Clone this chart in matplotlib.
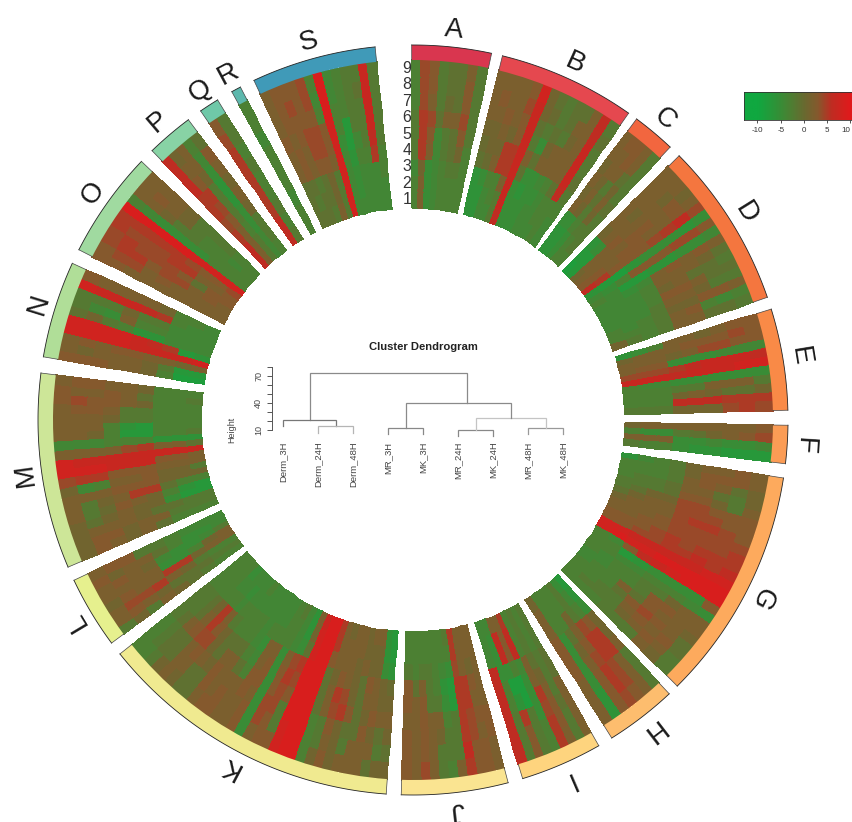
import numpy as np
import matplotlib
matplotlib.use('Agg')
from matplotlib import pyplot as plt
from matplotlib.colors import LinearSegmentedColormap, Normalize

plt.rcParams['font.family'] = ['Liberation Sans', 'DejaVu Sans']

# each sector: one list per column (clockwise), values for rings 1 to 9 (inner to outer)
sector_a = [[-3,-3,-4,-2,-2,-2,-3,-3,-3], [2,2,1,5,5,5,4,4,4], [-5,-5,-5,2,3,4,2,3,3], [-4,-4,-4,-4,-4,-1,-2,-2,-2],
            [-3,-3,-3,-2,-2,2,0,-1,-1], [-3,-3,-2,-1,-1,2,-1,-1,-1], [-3,-3,-2,1,3,4,3,3,2], [-3,-3,-3,-3,-2,-2,-2,-2,-2]]
sector_b = [[-6,-6,-6,-1,0,1,2,2,2], [-6,-6,-5,0,1,1,2,3,2], [-4,-4,-3,2,1,2,3,2,2], [-4,-3,-3,5,5,1,2,2,2],
            [-2,-2,2,5,5,3,3,4,3], [6,7,7,7,7,7,7,7,8], [-5,-5,-5,-1,2,-2,-1,1,1], [-5,-5,-6,-5,-1,-5,-2,0,-1],
            [-5,-5,-5,-5,2,1,-1,-2,-2], [-4,-4,-5,-4,2,2,-2,-1,-1], [-4,-4,-4,-3,2,2,1,2,-1], [-4,-3,-3,-1,2,2,2,2,2],
            [-3,-3,-3,6,7,7,7,6,6], [-4,-4,-3,-2,-1,-2,-2,-1,-2]]
sector_c = [[-6,-6,-5,2,1,2,1,2,2], [-6,-6,-5,1,2,1,2,2,3], [-5,-5,-3,-2,-1,-2,2,3,3], [-3,-3,-2,1,2,1,-1,2,2],
            [-3,-2,-2,-2,-1,-2,-2,-2,-2]]
sector_d = [[-8,-7,-6,1,2,2,2,2,2], [-7,-7,-5,2,2,1,2,2,2], [1,2,2,3,2,2,2,1,2], [2,2,2,2,3,3,2,3,1],
            [3,3,2,3,3,2,2,3,2], [6,5,3,3,3,4,5,6,4], [-6,-7,-8,-6,-5,-5,-5,-6,-5], [-4,-5,-3,3,3,3,4,4,3],
            [-3,-4,-7,-7,-6,-6,-5,-5,-4], [-4,-4,-5,-4,2,3,2,3,2], [-4,-4,-4,-3,2,2,2,1,-1], [-4,-4,-4,-3,1,2,-1,-1,-2],
            [-4,-4,-4,-3,3,3,2,-1,-1], [-4,-4,-4,-2,2,2,1,-2,-2], [-3,-4,-3,-2,1,1,3,3,2], [-3,-3,-3,-2,2,3,-3,-4,-3],
            [1,-2,-3,-2,2,2,-1,-1,-2]]
sector_e = [[-6,-5,-3,2,2,1,2,3,3], [1,2,2,2,3,3,3,4,3], [2,2,2,1,2,4,4,3,3], [2,3,3,-5,-5,-5,-4,-4,-4],
            [4,4,4,5,6,7,7,7,6], [7,7,7,6,7,7,7,8,8], [-3,-4,-4,-5,-5,-5,-5,-5,-5], [-3,-3,-3,-2,-2,2,2,2,-2],
            [-3,-3,-3,1,2,1,-1,-1,1], [-3,-3,-3,6,6,6,5,5,5], [-2,-2,-2,1,1,1,4,5,4]]
sector_f = [[1,2,2,2,2,2,2,2,3], [-3,-5,-5,-2,-1,1,2,3,4], [2,2,2,-5,-5,-4,-5,-5,-4], [-2,-3,-3,-5,-6,-6,-7,-7,-7]]
sector_g = [[-6,-4,-3,-2,1,2,2,3,2], [-3,-3,-3,-2,1,3,3,3,2], [-3,-3,-3,-2,2,3,2,-1,1], [-3,-2,-2,-1,2,2,-1,-2,1],
            [-2,-2,-2,-1,3,3,1,-2,2], [-2,-1,1,1,4,4,3,3,3], [-1,1,2,2,4,4,4,3,3], [1,2,2,2,4,5,5,4,3],
            [2,2,2,3,4,4,4,4,4], [2,2,3,3,4,4,4,4,5], [3,3,3,4,5,4,5,5,5], [3,3,4,4,5,5,6,5,6],
            [8,8,7,7,7,7,7,8,8], [8,9,8,8,9,9,9,9,9], [-3,-4,3,6,7,8,9,9,9], [-3,-3,-7,-6,-5,-5,-5,-5,3],
            [-3,-3,-4,-4,-3,-3,-3,-4,-5], [-3,-4,-3,-3,-2,-2,1,2,2], [-4,-4,-3,-3,-2,3,3,2,2], [-4,-3,-3,2,-1,3,2,2,1],
            [-3,-3,-3,-1,3,4,3,2,-1], [-3,-3,-2,-2,2,3,2,3,-1], [-3,-2,-2,-2,1,2,3,2,-2], [-3,-3,-3,-2,-2,-2,2,1,-2]]
sector_h = [[-7,-6,-5,1,1,2,-2,-2,-2], [-5,-4,-3,3,5,5,2,2,2], [-2,-2,-2,4,5,5,4,4,3], [-3,-3,1,2,3,4,5,5,4],
            [-3,-3,-3,-1,1,2,3,3,3], [-3,-3,-3,-5,-5,-5,-5,-6,-6], [1,2,2,3,3,3,2,2,2]]
sector_i = [[-2,-2,-2,-1,-1,2,2,2,2], [-3,-3,-3,-2,-2,-2,-1,-2,-2], [-2,-2,-2,-1,1,2,3,3,2], [-3,-3,-3,2,2,5,4,5,5],
            [5,6,6,-4,-5,-5,-5,-3,-3], [2,3,3,-3,-8,-8,-2,-2,-2], [2,6,6,-5,-8,-6,5,3,3], [-4,-5,-5,-5,-3,-3,-2,-2,-2],
            [-4,-4,-4,6,6,6,6,6,6]]
sector_j = [[2,2,2,2,2,3,3,2,2], [2,2,1,3,2,3,2,3,3], [2,2,2,5,5,4,4,3,3], [5,5,4,5,5,5,5,6,5],
            [-2,-3,-5,-7,-7,-2,-2,-2,2], [-3,-3,-4,-6,-5,-3,-2,-2,-3], [-3,-3,-3,-3,-2,2,1,-2,-2], [-3,-3,-2,-2,-2,2,2,2,2],
            [-3,-3,-2,2,3,3,3,3,4], [-3,-3,-3,-1,2,2,2,2,2], [-3,-3,-2,3,3,2,3,3,3]]
sector_k = [[-7,-7,-6,0,1,2,1,-1,1], [-6,-6,-5,1,1,2,-1,-2,1], [2,1,1,2,2,3,1,2,-1], [2,1,1,3,2,1,3,2,2],
            [1,1,2,-1,-1,-1,-1,2,2], [2,2,1,1,1,3,-1,-2,2], [2,2,2,2,4,5,1,1,1], [1,2,2,3,5,4,3,2,3],
            [2,2,2,1,2,2,-2,-2,1], [5,5,3,-1,-1,-1,-3,-3,-3], [9,9,9,9,9,9,9,9,9], [9,9,9,9,9,9,9,9,9],
            [7,8,8,9,9,9,9,8,8], [2,1,-1,5,4,3,-2,-2,3], [-6,-6,-5,4,5,4,4,3,3], [-4,-4,-4,2,3,3,4,4,2],
            [-2,-3,-3,-5,-5,-5,-5,-5,-5], [-3,-3,-3,2,3,3,2,3,3], [-4,-4,-3,2,2,3,3,2,2], [-4,-4,-3,-5,-4,-3,2,2,2],
            [-4,-4,-4,-4,-3,-1,2,3,3], [-4,-4,-3,-3,-1,2,2,2,3], [-4,-4,-3,-3,-1,2,3,3,2], [-3,-4,-3,-3,-1,-1,1,-1,-1],
            [-4,-4,-3,-2,1,1,2,-1,-1], [-4,-5,-4,2,3,4,3,2,1], [-4,-4,-3,5,5,4,2,2,2], [-5,-4,-3,1,2,3,-1,-1,1],
            [-3,-3,-3,-1,-1,2,-1,-1,-2], [-3,-3,-3,-2,-2,-1,-2,-2,-3], [-3,-3,-3,-2,-2,-2,-3,-3,-3]]
sector_l = [[-3,-3,-2,-1,1,2,-2,1,-2], [-2,-2,-1,-1,-1,1,2,3,2], [-3,-3,-2,1,2,5,4,4,2], [2,2,1,5,5,2,2,3,1],
            [2,1,-3,-5,-5,2,2,2,2], [-2,-4,-5,-5,-4,1,2,3,2], [-4,-5,-5,-3,-1,2,2,1,3], [-4,-4,-4,-3,-2,-2,3,3,2]]
sector_m = [[-3,-3,-3,-1,2,1,2,3,1], [-2,-2,-2,2,2,1,3,3,1], [-2,-2,-1,-1,1,2,2,2,1], [-7,-7,-5,1,1,2,1,-1,1],
            [-7,-6,-3,1,2,3,0,-2,2], [-3,-3,-1,5,5,2,1,-2,2], [1,1,1,3,3,3,2,2,2], [-2,1,1,3,2,2,-3,-4,1],
            [2,2,2,3,3,3,5,5,4], [2,3,3,7,7,7,8,8,8], [7,7,7,7,7,7,7,7,8], [-1,2,2,5,4,2,2,2,2],
            [-6,-6,-6,-3,-3,-3,-4,-4,-4], [-2,-3,-3,-7,-7,-3,1,2,2], [-3,-3,-3,-7,-6,-3,2,2,2], [-3,-3,-3,-2,-2,1,2,2,2],
            [-3,-3,-3,-2,-2,2,3,3,2], [-3,-3,-3,1,2,3,3,4,3], [-2,-3,-3,-1,2,3,2,2,3], [-3,-3,-3,1,2,2,3,3,2]]
sector_n = [[-8,-8,-3,1,2,2,3,3,3], [-7,-7,-2,1,2,2,2,1,2], [2,1,2,2,3,3,2,3,2], [8,7,7,7,7,8,8,8,8],
            [-6,-7,5,6,7,8,8,8,8], [-4,-4,-4,-6,-6,-3,-2,1,-1], [-4,-4,-4,-3,-3,2,-5,-4,-2], [-4,-4,-4,-2,-2,1,-2,-2,-2],
            [-4,-4,-3,5,6,7,7,7,8], [-4,-3,-3,1,2,2,2,2,3]]
sector_o = [[2,2,2,2,2,2,2,3,3], [2,2,2,2,3,2,4,4,3], [2,3,2,4,4,3,5,5,4], [3,3,-1,3,4,4,4,5,4],
            [3,2,2,5,5,4,4,4,5], [4,3,3,4,5,5,5,5,5], [8,8,8,8,9,9,9,9,9], [-3,-3,-3,-5,-5,-5,-5,-4,-3],
            [-3,-3,-3,-3,-2,-2,1,2,2], [-3,-4,-3,-3,-2,1,2,3,2], [-3,-3,-2,-2,-2,1,2,2,2]]
sector_p = [[6,6,5,4,5,5,6,6,6], [2,2,2,3,4,5,3,2,1], [-2,-2,-3,-2,-2,-2,1,2,2], [-4,-4,-5,-5,-6,-6,-5,-4,-3],
            [-3,-2,-2,1,2,1,2,3,-1]]
sector_q = [[6,6,5,5,5,5,5,4,3], [-2,-3,-2,-3,-3,-2,-3,-2,-2]]
sector_r = [[-3,-3,-4,-3,-3,-3,-4,-3,-3]]
sector_s = [[-1,-1,-1,2,2,3,2,2,2], [-1,-2,-1,3,3,2,3,3,3], [-1,-1,-2,2,2,3,3,4,3], [-2,-1,-1,3,4,4,3,3,3],
            [2,1,1,3,4,4,3,4,4], [-2,-2,-2,2,3,3,-3,-4,-3], [8,8,8,8,8,8,9,9,9], [-4,-4,-4,-4,-5,-3,-3,-4,-4],
            [-4,-5,-5,-6,-7,-7,-3,-3,-3], [-4,-4,-4,-3,-4,-2,-2,-2,-2], [-4,-4,-4,-3,-2,-2,-2,-1,-2], [-4,-4,-4,5,6,7,7,7,7],
            [-4,-4,-3,-3,-2,-2,-2,-2,-2]]

sector_names = list('ABCDEFGHIJKLMNOPQRS')
sectors = [sector_a, sector_b, sector_c, sector_d, sector_e, sector_f, sector_g, sector_h, sector_i, sector_j,
           sector_k, sector_l, sector_m, sector_n, sector_o, sector_p, sector_q, sector_r, sector_s]
sector_start = [-0.2, 13.8, 36.6, 45.2, 72.8, 90.8, 98.9, 136.9, 150.3, 165.3, 184.1, 233.5, 246.9, 279.7, 297.0, 315.9, 325.5, 331.1, 334.9]
sector_end = [12.1, 35.1, 43.3, 70.9, 88.5, 96.7, 135.2, 148.0, 163.0, 181.8, 231.4, 244.7, 277.2, 294.7, 313.6, 323.2, 328.6, 332.6, 354.2]
track_colors = ['#d9364f', '#e5484f', '#f2663f', '#f4763f', '#f98a47', '#fb9c55', '#fdaa5d', '#fdbd6e', '#fed47e', '#fae491',
                '#f0ea90', '#e6f08e', '#cde698', '#b0de98', '#a0daa0', '#88d3a5', '#6fc8a8', '#5db8ad', '#409ab8']

ring_labels = ['1', '2', '3', '4', '5', '6', '7', '8', '9']

leaf_labels = ['Derm_3H', 'Derm_24H', 'Derm_48H', 'MR_3H', 'MK_3H', 'MR_24H', 'MK_24H', 'MR_48H', 'MK_48H']
# left x, right x, height, left child height, right child height, colour of the link
dendro_links = [(0.75, 5.25, 73, 21, 39.6, '#8a8a8a'),
                (0, 1.5, 21, 14, 14, '#777777'),
                (1, 2, 14, 7, 7, '#b5b5b5'),
                (3, 4, 12.6, 6, 6, '#888888'),
                (5, 6, 10, 3, 3, '#888888'),
                (7, 8, 12.6, 6, 6, '#999999'),
                (5.5, 7.5, 23, 10, 12.6, '#c4c4c4'),
                (3.5, 6.5, 39.6, 12.6, 23, '#8a8a8a')]
height_ticks = [10, 20, 30, 40, 50, 60, 70, 80]
height_labels = ['10', '', '', '40', '', '', '70', '']

legend_ticks = [-10, -5, 0, 5, 10]
legend_labels = ['-10', '-5', '0', '5', '10']

# flat around zero like the reference: small values stay olive, only the extremes get saturated
cmap = LinearSegmentedColormap.from_list('gr', [(0.0, '#10a840'), (0.2, '#2f9238'), (0.35, '#4c8033'), (0.5, '#686a30'),
                                                (0.65, '#85592d'), (0.8, '#bf2c22'), (1.0, '#e01a1c')])
norm = Normalize(-10, 10)

W, H = 853, 822
CX, CY = 413, 420
R_MAX = 402
R_IN, R_HEAT, R_OUT = 212, 360, 375


def draw_sector(ax, values, start, end, color, name):
    t0, t1 = np.radians(start), np.radians(end)
    c = np.array(values).T
    theta = np.linspace(t0, t1, c.shape[1] + 1)
    radius = np.linspace(R_IN, R_HEAT, c.shape[0] + 1)
    ax.pcolormesh(theta, radius, c, cmap=cmap, norm=norm, shading='flat', edgecolors='face', linewidth=0.2)
    ax.bar((t0 + t1) / 2, R_OUT - R_HEAT, width=t1 - t0, bottom=R_HEAT, color=color, linewidth=0)
    arc = np.linspace(t0, t1, 100)
    ax.plot(arc, np.full(100, R_OUT), color='#222222', lw=0.6)
    ax.plot([t0, t0], [R_HEAT, R_OUT], color='#444444', lw=0.5)
    ax.plot([t1, t1], [R_HEAT, R_OUT], color='#444444', lw=0.5)
    mid = (start + end) / 2
    ax.text((t0 + t1) / 2, 392, name, rotation=-mid, rotation_mode='anchor', ha='center', va='center',
            fontsize=20, color='#1a1a1a')


def draw_dendrogram(fig):
    # leaf 0 sits at x=283.3 px, leaves are 35 px apart, height 10 at y=430 px, 0.9 px per unit
    left, right = 265.8, 580.8
    top, bottom = 340, 475
    ax = fig.add_axes([left / W, 1 - bottom / H, (right - left) / W, (bottom - top) / H])
    ax.set_xlim(-0.5, 8.5)
    ax.set_ylim(10 - (bottom - 430) / 0.9, 10 + (430 - top) / 0.9)
    ax.patch.set_alpha(0)
    for x0, x1, h, h0, h1, col in dendro_links:
        ax.plot([x0, x0, x1, x1], [h0, h, h, h1], color=col, lw=0.9, solid_joinstyle='miter')
    for i, lab in enumerate(leaf_labels):
        ax.text(i, -3, lab, rotation=90, ha='center', va='top', fontsize=6.8, color='#444444', clip_on=False)
    for s in ['top', 'right', 'bottom']:
        ax.spines[s].set_visible(False)
    ax.spines['left'].set_position(('data', -0.32))
    ax.spines['left'].set_bounds(10, 80)
    ax.spines['left'].set_color('#555555')
    ax.spines['left'].set_linewidth(0.7)
    ax.set_xticks([])
    ax.set_yticks(height_ticks)
    ax.set_yticklabels(height_labels, rotation=90, va='center', fontsize=6.5, color='#444444')
    ax.tick_params(axis='y', length=3.5, width=0.7, color='#555555', pad=3)
    fig.text(232 / W, 1 - 430 / H, 'Height', rotation=90, ha='center', va='center', fontsize=6.5, color='#444444')
    fig.text(423 / W, 1 - 347 / H, 'Cluster Dendrogram', ha='center', va='center', fontsize=8.1,
             fontweight='bold', color='#222222')


def draw_legend(fig):
    # bar spans x=744..853 px, value 0 at 804 px, 4.65 px per unit
    ax = fig.add_axes([744 / W, 1 - 120 / H, 109 / W, 28 / H])
    v0, v1 = (744 - 804) / 4.65, (853 - 804) / 4.65
    gradient = np.linspace(v0, v1, 256).reshape(1, -1)
    ax.imshow(gradient, cmap=cmap, norm=norm, aspect='auto', extent=[v0, v1, 0, 1])
    ax.set_yticks([])
    ax.set_xticks(legend_ticks)
    ax.set_xticklabels(legend_labels)
    ax.get_xticklabels()[-1].set_ha('right')
    ax.tick_params(axis='x', length=2, width=0.6, labelsize=5.8, pad=3, colors='#333333')
    for s in ax.spines.values():
        s.set_color('#333333')
        s.set_linewidth(0.6)


def main():
    fig = plt.figure(figsize=(W / 100, H / 100), dpi=100)
    ax = fig.add_axes([(CX - R_MAX) / W, 1 - (CY + R_MAX) / H, 2 * R_MAX / W, 2 * R_MAX / H], projection='polar')
    ax.set_theta_zero_location('N')
    ax.set_theta_direction(-1)
    ax.set_ylim(0, R_MAX)
    ax.axis('off')

    for values, start, end, color, name in zip(sectors, sector_start, sector_end, track_colors, sector_names):
        draw_sector(ax, values, start, end, color, name)

    ring_h = (R_HEAT - R_IN) / len(ring_labels)
    for i, lab in enumerate(ring_labels):
        r = R_IN + (i + 0.5) * ring_h
        ax.text(-6 / r, r, lab, ha='center', va='center', fontsize=11.5, color='#333333')

    draw_dendrogram(fig)
    draw_legend(fig)
    fig.savefig('out.png', dpi=100)


if __name__ == '__main__':
    main()
